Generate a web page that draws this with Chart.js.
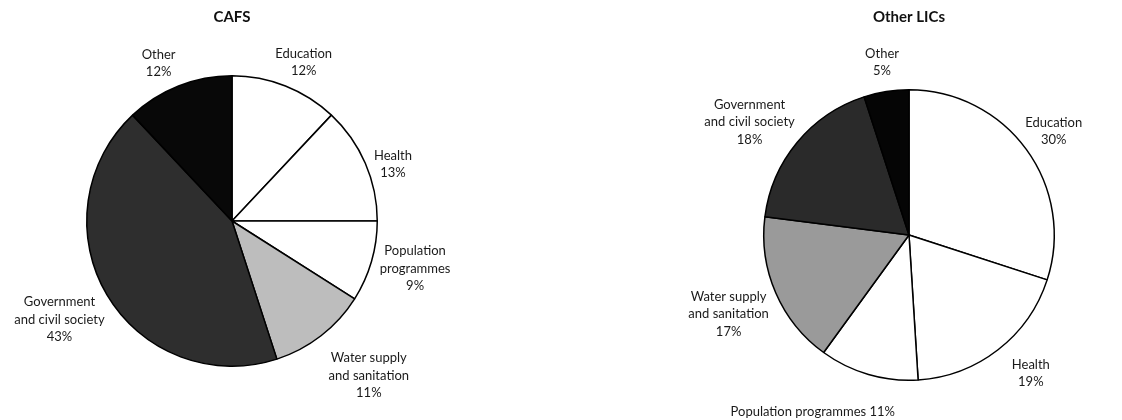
<!DOCTYPE html>
<html>
<head>
<meta charset="utf-8">
<script src="https://cdn.jsdelivr.net/npm/chart.js@4.4.1/dist/chart.umd.min.js"></script>
<style>
html, body { margin: 0; padding: 0; background: #fff; overflow: hidden; }
#wrap { position: relative; width: 1122px; height: 420px; }
.box { position: absolute; top: 0; width: 561px; height: 420px; }
</style>
</head>
<body>
<div id="wrap">
  <div class="box" style="left:0"><canvas id="cafsChart"></canvas></div>
  <div class="box" style="left:561px"><canvas id="licsChart"></canvas></div>
</div>
<script>
var sectors = ["Education", "Health", "Population programmes", "Water supply and sanitation", "Government and civil society", "Other"];
var cafsValues = [12, 13, 9, 11, 43, 12];
var licsValues = [30, 19, 11, 17, 18, 5];

// label text per slice, %v gets the value
var cafsLabelLines = [["Education", "%v"], ["Health", "%v"], ["Population", "programmes", "%v"], ["Water supply", "and sanitation", "%v"], ["Government", "and civil society", "%v"], ["Other", "%v"]];
var licsLabelLines = [["Education", "%v"], ["Health", "%v"], ["Population programmes %v"], ["Water supply", "and sanitation", "%v"], ["Government", "and civil society", "%v"], ["Other", "%v"]];

var cafsFills = ["#ffffff", "#ffffff", "#ffffff", "#bdbdbd", "#2e2e2e", "#080808"];
var licsFills = ["#ffffff", "#ffffff", "#ffffff", "#9a9a9a", "#2a2a2a", "#050505"];

// small hand nudges for the label boxes (px)
var cafsNudge = [[4, 2], [1, 12], [0, -3], [17, 11], [0, 6], [-10, 3]];
var licsNudge = [[-4, -2], [15, 2], [-30, 19], [-1, 7], [-5, 3], [0, -2]];

var FONT = "Lato, 'Open Sans', sans-serif";

var sliceLabels = {
    id: "sliceLabels",
    afterDatasetsDraw: function (chart, args, opts) {
        var ctx = chart.ctx;
        var meta = chart.getDatasetMeta(0);
        var values = chart.data.datasets[0].data;
        ctx.save();
        ctx.font = "13px " + FONT;
        ctx.fillStyle = "#1a1a1a";
        ctx.textAlign = "center";
        ctx.textBaseline = "middle";
        meta.data.forEach(function (arc, i) {
            var p = arc.getProps(["x", "y", "startAngle", "endAngle", "outerRadius"], true);
            var a = (p.startAngle + p.endAngle) / 2;
            var lines = opts.lines[i].map(function (s) { return s.replace("%v", values[i] + "%"); });
            var w = 0;
            lines.forEach(function (s) { w = Math.max(w, ctx.measureText(s).width); });
            var lh = 17.5;
            var h = lines.length * lh;
            var r = p.outerRadius + 10;
            var cx = p.x + Math.cos(a) * r + Math.cos(a) * w / 2 + opts.nudge[i][0];
            var cy = p.y + Math.sin(a) * r + Math.sin(a) * h / 2 + opts.nudge[i][1];
            lines.forEach(function (s, k) {
                ctx.fillText(s, cx, cy - h / 2 + lh / 2 + k * lh);
            });
        });
        ctx.restore();
    }
};

function makePie(id, title, values, fills, lines, nudge, pad) {
    return new Chart(id, {
        type: "pie",
        data: {
            labels: sectors,
            datasets: [{
                data: values,
                backgroundColor: fills,
                borderColor: "#000",
                borderWidth: 1.5
            }]
        },
        options: {
            responsive: true,
            maintainAspectRatio: false,
            animation: false,
            layout: { padding: { left: pad[0], right: pad[1], top: 0, bottom: pad[3] } },
            plugins: {
                legend: { display: false },
                tooltip: { enabled: false },
                title: {
                    display: true,
                    text: title,
                    color: "#111",
                    font: { family: FONT, size: 15, weight: "bold", lineHeight: 1.2 },
                    padding: { top: 8, bottom: pad[2] }
                },
                sliceLabels: { lines: lines, nudge: nudge }
            }
        },
        plugins: [sliceLabels]
    });
}

makePie("cafsChart", "CAFS", cafsValues, cafsFills, cafsLabelLines, cafsNudge, [86, 183, 49, 53]);
makePie("licsChart", "Other LICs", licsValues, licsFills, licsLabelLines, licsNudge, [202, 67, 63, 39]);
</script>
</body>
</html>
